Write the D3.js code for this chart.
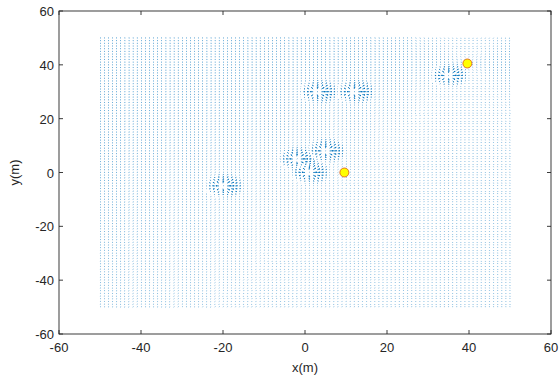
<!DOCTYPE html>
<html><head><meta charset="utf-8">
<script src="https://cdn.jsdelivr.net/npm/d3@7"></script>
<style>body{margin:0;background:#fff}svg{display:block}text{font-family:"Liberation Sans",Arial,sans-serif}</style>
</head><body><svg id="c" width="560" height="378"></svg>
<script>
// ---- data ----
const xTicks = [-60,-40,-20,0,20,40,60];
const yTicks = [-60,-40,-20,0,20,40,60];
const gridX = d3.range(-50, 51, 1);   // quiver grid columns
const gridY = d3.range(-50, 51, 1);   // quiver grid rows
const obstacles = [[3,30],[12,30],[35,36],[-2,5],[5,8],[1,0],[-20,-5]];
const startPt = [9.6, 0];
const goalPt = [39.6, 40.5];
const rho0 = 5;        // obstacle influence radius
const attGain = 0.12;  // attractive gain
// ---------------

const svg = d3.select("#c");
const L=59, R=551, T=11, B=334;
const x = d3.scaleLinear().domain([-60,60]).range([L,R]);
const y = d3.scaleLinear().domain([-60,60]).range([B,T]);

// potential field vectors
const vecs = [];
for (const gx of gridX) for (const gy of gridY) {
  let dx = goalPt[0]-gx, dy = goalPt[1]-gy;
  const dg = Math.hypot(dx,dy) || 1;
  let u = attGain*dx/dg, v = attGain*dy/dg;
  for (const [ox,oy] of obstacles) {
    const ex = gx-ox, ey = gy-oy, d = Math.hypot(ex,ey);
    if (d>0 && d<rho0) { const m = (rho0-d)/rho0; u += m*ex/d; v += m*ey/d; }
  }
  vecs.push({x:gx,y:gy,u,v});
}
const maxLen = d3.max(vecs, d=>Math.hypot(d.u,d.v));
const sc = 0.95/maxLen;
const alpha=0.33, beta=0.33;
function arrowPath(d){
  const u=d.u*sc, v=d.v*sc;
  const x0=d.x, y0=d.y, x1=x0+u, y1=y0+v;
  const hx1 = x1 - alpha*(u+beta*(v)), hy1 = y1 - alpha*(v-beta*(u));
  const hx2 = x1 - alpha*(u-beta*(v)), hy2 = y1 - alpha*(v+beta*(u));
  return `M${x(x0)},${y(y0)}L${x(x1)},${y(y1)}M${x(hx1)},${y(hy1)}L${x(x1)},${y(y1)}L${x(hx2)},${y(hy2)}`;
}
svg.append("g").selectAll("path").data(vecs).join("path")
  .attr("d", arrowPath).attr("fill","none").attr("stroke","#0072BD").attr("stroke-width",0.85);

// markers
svg.append("g").selectAll("circle").data([startPt, goalPt]).join("circle")
  .attr("cx",d=>x(d[0])).attr("cy",d=>y(d[1])).attr("r",4.5)
  .attr("fill","#FFFF00").attr("stroke","#D95319").attr("stroke-width",0.8);

// axes box
const ax = svg.append("g");
ax.append("rect").attr("x",L).attr("y",T).attr("width",R-L).attr("height",B-T)
  .attr("fill","none").attr("stroke","#262626").attr("stroke-width",0.9);
const tl=4;
ax.selectAll(".xt").data(xTicks).join("path").attr("stroke","#262626").attr("stroke-width",0.9)
  .attr("d",d=>`M${x(d)},${B}v${-tl}M${x(d)},${T}v${tl}`);
ax.selectAll(".yt").data(yTicks).join("path").attr("stroke","#262626").attr("stroke-width",0.9)
  .attr("d",d=>`M${L},${y(d)}h${tl}M${R},${y(d)}h${-tl}`);
ax.selectAll(".xl").data(xTicks).join("text").attr("x",d=>x(d)).attr("y",B+18)
  .attr("text-anchor","middle").attr("font-size",13).attr("fill","#262626").text(d=>d);
ax.selectAll(".yl").data(yTicks).join("text").attr("x",L-5).attr("y",d=>y(d)+5)
  .attr("text-anchor","end").attr("font-size",13).attr("fill","#262626").text(d=>d);
svg.append("text").attr("x",(L+R)/2).attr("y",372).attr("text-anchor","middle")
  .attr("font-size",13).attr("fill","#262626").text("x(m)");
svg.append("text").attr("transform",`translate(19,${(T+B)/2}) rotate(-90)`).attr("text-anchor","middle")
  .attr("font-size",13).attr("fill","#262626").text("y(m)");
</script></body></html>
